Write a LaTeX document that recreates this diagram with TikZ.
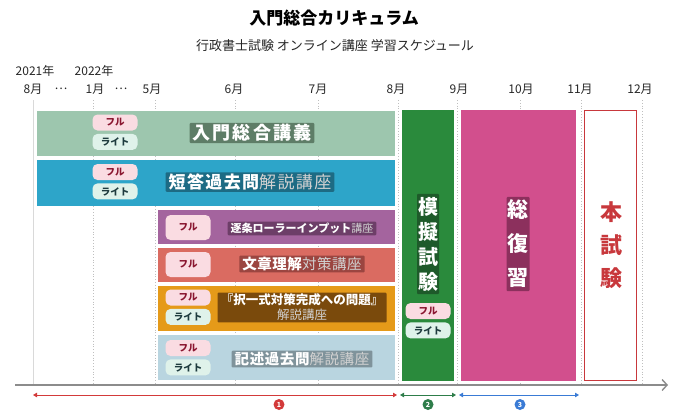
\documentclass[tikz,border=0pt]{standalone}
\usepackage{fontspec}
\setmainfont{Noto Sans CJK JP}
\usetikzlibrary{arrows.meta}
\usetikzlibrary{positioning}

\definecolor{cInt}{HTML}{9DC6AE}
\definecolor{cIntD}{HTML}{5E7D67}
\definecolor{cTan}{HTML}{2DA5C9}
\definecolor{cTanD}{HTML}{1D6B84}
\definecolor{cChi}{HTML}{A4649E}
\definecolor{cChiD}{HTML}{6D3E68}
\definecolor{cBun}{HTML}{DA6B61}
\definecolor{cBunD}{HTML}{9B4540}
\definecolor{cTak}{HTML}{E59A19}
\definecolor{cTakD}{HTML}{7A4A0C}
\definecolor{cKij}{HTML}{B9D5E0}
\definecolor{cKijD}{HTML}{7F939B}
\definecolor{cMog}{HTML}{2A8A3C}
\definecolor{cMogD}{HTML}{1E5A2A}
\definecolor{cRev}{HTML}{D24F8D}
\definecolor{cRevD}{HTML}{8C305D}
\definecolor{cExam}{HTML}{C8383C}
\definecolor{fullbg}{HTML}{FADCE2}
\definecolor{fulltx}{HTML}{8A1630}
\definecolor{litebg}{HTML}{DFF2EA}
\definecolor{litetx}{HTML}{1E3B3E}
\definecolor{spanR}{HTML}{D33A3A}
\definecolor{spanG}{HTML}{2E7D4A}
\definecolor{spanB}{HTML}{3A7BD5}

\newcommand{\plainpart}[1]{{\mdseries\color{white!82!black}#1}}
\newcommand{\fs}[2]{\fontsize{#1}{#2}\selectfont}

\begin{document}
\begin{tikzpicture}[x=1pt, y=-1pt,
bar/.style={rectangle, inner sep=0pt, outer sep=0pt},
tag/.style={rounded corners=5pt, inner sep=0pt, minimum width=45pt, minimum height=16pt, font=\bfseries\fs{9.5}{9.5}},
full/.style={tag, fill=fullbg, text=fulltx},
lite/.style={tag, fill=litebg, text=litetx},
lbl/.style={text=white, inner xsep=3pt, inner ysep=1.5pt, rounded corners=1pt, font=\bfseries},
vlbl/.style={text=white, inner xsep=1pt, inner ysep=3pt, rounded corners=1pt, align=center, font=\bfseries},
mon/.style={text=black!85, font=\fs{12}{12}, inner sep=0pt},
gline/.style={black!25, dotted, line width=0.8pt},
span/.style={line width=0.8pt, {Triangle[length=4pt,width=4.5pt]}-{Triangle[length=4pt,width=4.5pt]}},
num/.style={circle, inner sep=0pt, minimum size=11pt, text=white, font=\bfseries\fs{7}{7}}]
\useasboundingbox (0,0) rectangle (680,416);

% title
\node[font=\bfseries\fs{17}{17}] (title) at (334,18) {入門総合カリキュラム};
\node[font=\fs{13}{13}, text=black!85] (subtitle) at (335,46) {行政書士試験 オンライン講座 学習スケジュール};

% months
\node[mon] (y21) at (35,71) {2021年};
\node[mon] (y22) at (94,71) {2022年};
\foreach \x/\m in {33/8月, 61/…, 95/1月, 121/…, 152/5月, 234/6月, 318/7月, 396/8月, 459/9月, 521/10月, 580/11月, 640/12月}
  \node[mon] at (\x,89) {\m};

% grid
\draw[black!15, line width=0.8pt] (33,100) -- (33,384);
\foreach \x in {93,155,235,318,398,457,520,581,642}
  \draw[gline] (\x,100) -- (\x,384);

% bars
\node[bar, fill=cInt, minimum width=358pt, minimum height=45pt] (b1) at (216,133.5) {};
\node[bar, fill=cTan, minimum width=358pt, minimum height=46pt] (b2) at (216,183) {};
\node[bar, fill=cChi, minimum width=237pt, minimum height=34pt] (b3) at (276.5,227) {};
\node[bar, fill=cBun, minimum width=237pt, minimum height=34pt] (b4) at (276.5,265) {};
\node[bar, fill=cTak, minimum width=237pt, minimum height=45pt] (b5) at (276.5,308.5) {};
\node[bar, fill=cKij, minimum width=237pt, minimum height=45pt] (b6) at (276.5,357.5) {};
\node[bar, fill=cMog, minimum width=52pt, minimum height=271pt] (mock) at (428,245.5) {};
\node[bar, fill=cRev, minimum width=115pt, minimum height=271pt] (rev) at (518.5,245.5) {};
\node[bar, fill=white, draw=cExam, line width=1.5pt, minimum width=52pt, minimum height=270pt] (exam) at (610.5,245.5) {};

% plans
\node[full] (f1) at (115,122.5) {フル};
\node[lite, below=3pt of f1] (l1) {ライト};
\node[full] (f2) at (115,172) {フル};
\node[lite, below=3pt of f2] (l2) {ライト};
\node[full, minimum height=25pt] (f3) at (188,227.5) {フル};
\node[full, minimum height=25pt] (f4) at (188,264.5) {フル};
\node[full] (f5) at (188,297.5) {フル};
\node[lite, below=3pt of f5] (l5) {ライト};
\node[full] (f6) at (188,348) {フル};
\node[lite, below=3pt of f6] (l6) {ライト};
\node[full] (f7) at (428,311) {フル};
\node[lite, below=3pt of f7] (l7) {ライト};

% course names
\node[lbl, fill=cIntD, font=\bfseries\fs{18}{18}\addfontfeature{LetterSpace=12}] (t1) at (252,133) {入門総合講義};
\node[lbl, fill=cTanD, font=\bfseries\fs{17}{17}\addfontfeature{LetterSpace=8}] (t2) at (250,182) {短答過去問\plainpart{解説講座}};
\node[lbl, fill=cChiD, font=\bfseries\fs{11}{11}] (t3) at (302,228.5) {逐条ローラーインプット\plainpart{講座}};
\node[lbl, fill=cBunD, font=\bfseries\fs{14.5}{14.5}\addfontfeature{LetterSpace=4}] (t4) at (302,264) {文章理解\plainpart{対策講座}};
\node[lbl, fill=cTakD, align=center, font=\bfseries\fs{12.5}{15}, minimum width=169pt] (t5) at (302,307.5) {『択一式対策完成への問題』\\ \plainpart{解説講座}};
\node[lbl, fill=cKijD, font=\bfseries\fs{14.5}{14.5}\addfontfeature{LetterSpace=4}] (t6) at (302,359) {記述過去問\plainpart{解説講座}};
\node[vlbl, fill=cMogD, font=\bfseries\fs{20}{25}] (t7) at (428,244) {模\\擬\\試\\験};
\node[vlbl, fill=cRevD, font=\bfseries\fs{21}{34}] (t8) at (518,244) {総\\復\\習};
\node[vlbl, text=cExam, font=\bfseries\fs{22}{33}] (t9) at (611,245) {本\\試\\験};

% axis and spans
\coordinate (ax0) at (15,385);
\coordinate (ax1) at (668,385);
\draw[black!45, line width=1.4pt, -{Straight Barb[length=5pt,width=11pt]}] (ax0) -- (ax1);
\coordinate (s0) at (33,395);
\coordinate (s1) at (397,395);
\coordinate (s2) at (400,395);
\coordinate (s3) at (456,395);
\coordinate (s4) at (459,395);
\coordinate (s5) at (579,395);
\draw[span, spanR] (s0) -- (s1);
\draw[span, spanG] (s2) -- (s3);
\draw[span, spanB] (s4) -- (s5);
\node[num, fill=spanR] (n1) at (279,404.5) {1};
\node[num, fill=spanG] (n2) at (428,404.5) {2};
\node[num, fill=spanB] (n3) at (520,404.5) {3};
\end{tikzpicture}
\end{document}
